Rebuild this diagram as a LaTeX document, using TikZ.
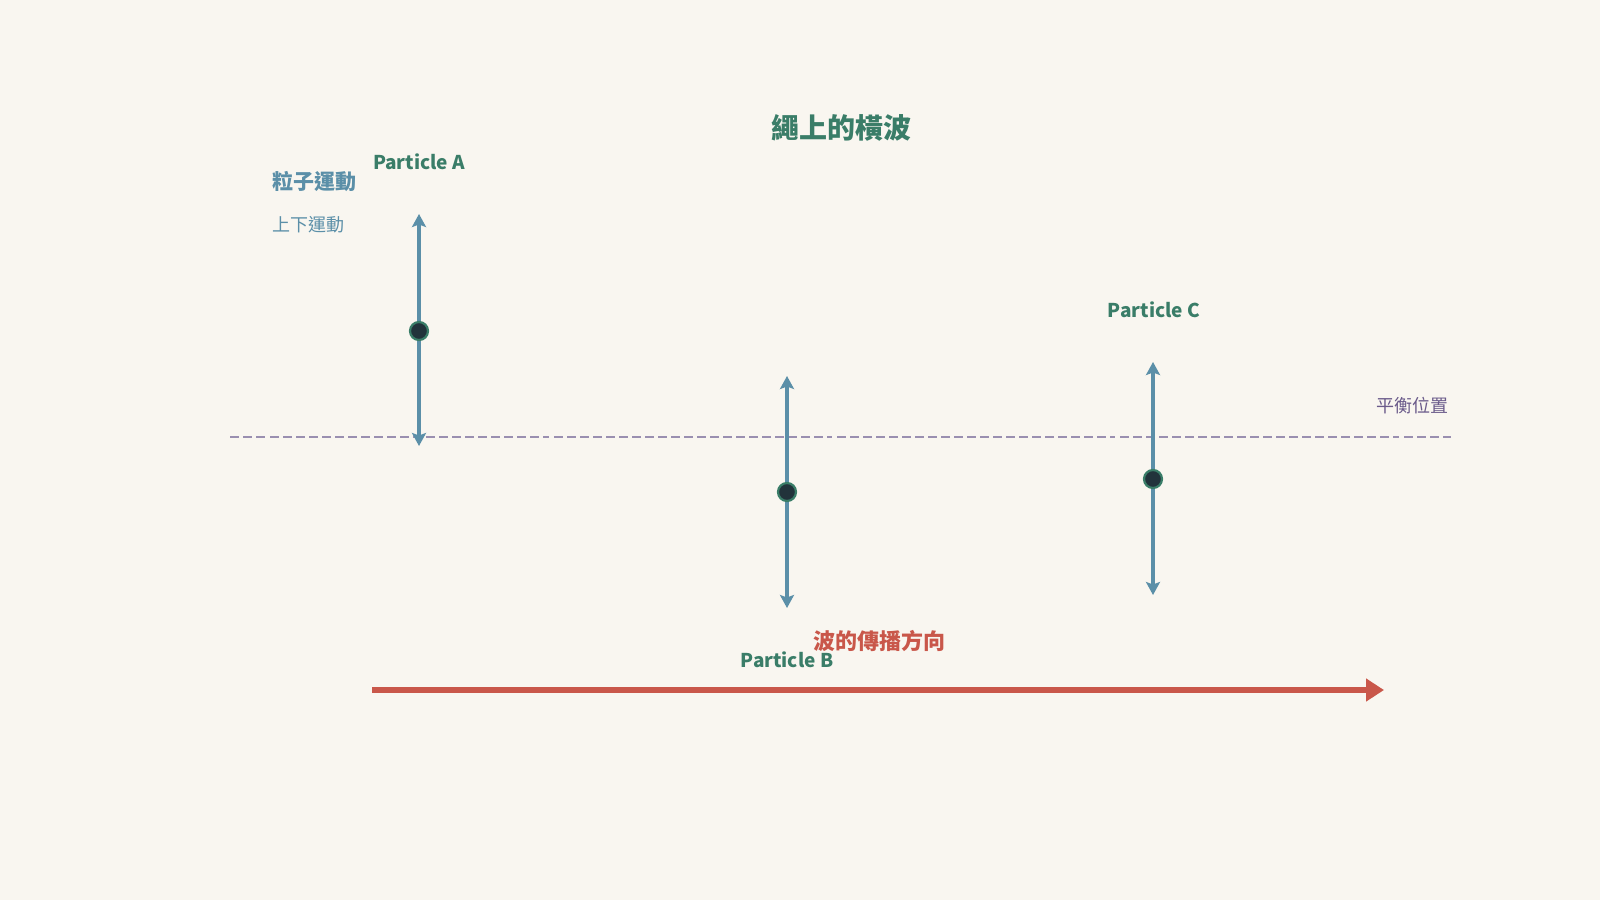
\documentclass[tikz,border=0pt]{standalone}
\usepackage{fontspec}
\setmainfont{Noto Sans CJK TC}
\usetikzlibrary{arrows.meta}
\definecolor{bg}{HTML}{F9F6F0}
\definecolor{tgreen}{HTML}{3A7D68}
\definecolor{mblue}{HTML}{5B8FA8}
\definecolor{wred}{HTML}{C9574A}
\definecolor{eqline}{HTML}{9A8FB0}
\definecolor{eqtext}{HTML}{6A5A8A}
\definecolor{dotfill}{HTML}{22333B}
\tikzset{
  every node/.style={inner sep=0pt, outer sep=0pt},
  title/.style={font=\fontsize{28}{32}\selectfont\bfseries, text=tgreen},
  plabel/.style={font=\fontsize{19}{22}\selectfont\bfseries, text=tgreen},
  motion/.style={line width=4.3pt, draw=mblue, {Stealth[length=13pt,width=14pt,inset=2.5pt]}-{Stealth[length=13pt,width=14pt,inset=2.5pt]}},
  particle/.style={circle, minimum size=18pt, fill=dotfill, draw=tgreen, line width=2.2pt},
  eqseg/.style={draw=eqline, line width=2.5pt, dash pattern=on 9pt off 4pt},
  wave/.style={line width=5.5pt, draw=wred, -{Triangle[length=18pt,width=22pt]}},
}
\begin{document}
\begin{tikzpicture}[x=1pt,y=-1pt]
\fill[bg] (0,0) rectangle (1600,900);
\useasboundingbox (0,0) rectangle (1600,900);

% equilibrium line
\coordinate (e0) at (230,437);
\coordinate (e1) at (265,437);
\coordinate (e2) at (270,437);
\coordinate (e3) at (549,437);
\coordinate (e4) at (554,437);
\coordinate (e5) at (832,437);
\coordinate (e6) at (837,437);
\coordinate (e7) at (1115,437);
\coordinate (e8) at (1120,437);
\coordinate (e9) at (1399,437);
\coordinate (e10) at (1404,437);
\coordinate (e11) at (1451,437);
\draw[eqseg] (e0) -- (e1);
\draw[eqseg] (e2) -- (e3);
\draw[eqseg] (e4) -- (e5);
\draw[eqseg] (e6) -- (e7);
\draw[eqseg] (e8) -- (e9);
\draw[eqseg] (e10) -- (e11);
\node[anchor=east, font=\fontsize{18}{22}\selectfont, text=eqtext] (eqlabel) at (1448,406) {平衡位置};

% title
\node[title] (title) at (841,128) {繩上的橫波};

% legend
\node[anchor=west, font=\fontsize{21}{24}\selectfont\bfseries, text=mblue] (leg1) at (272,182) {粒子運動};
\node[anchor=west, font=\fontsize{18}{22}\selectfont, text=mblue] (leg2) at (272,225) {上下運動};

% particle A
\coordinate (atop) at (419,214);
\coordinate (abot) at (419,446);
\draw[motion] (abot) -- (atop);
\node[particle] (pa) at (419,331) {};
\node[plabel] (la) at (419,162) {Particle A};

% particle B
\coordinate (btop) at (787,376);
\coordinate (bbot) at (787,608);
\draw[motion] (bbot) -- (btop);
\node[particle] (pb) at (787,492) {};
\node[plabel] (lb) at (787,660) {Particle B};

% particle C
\coordinate (ctop) at (1153,362);
\coordinate (cbot) at (1153,595);
\draw[motion] (cbot) -- (ctop);
\node[particle] (pc) at (1153,479) {};
\node[plabel] (lc) at (1154,310) {Particle C};

% wave direction
\coordinate (w0) at (372,690);
\coordinate (w1) at (1384,690);
\draw[wave] (w0) -- (w1);
\node[font=\fontsize{22}{26}\selectfont\bfseries, text=wred] (wl) at (879,641) {波的傳播方向};
\end{tikzpicture}
\end{document}
